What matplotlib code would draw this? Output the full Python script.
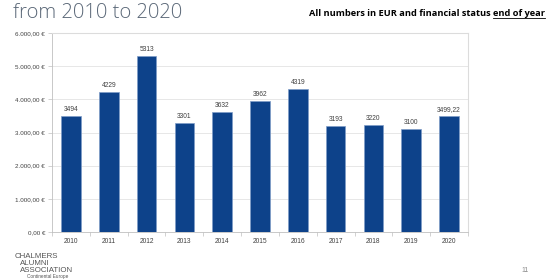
import matplotlib
matplotlib.use("Agg")
import matplotlib.pyplot as plt
from matplotlib.lines import Line2D

years = ["2010", "2011", "2012", "2013", "2014", "2015", "2016", "2017", "2018", "2019", "2020"]
values = [3494, 4229, 5313, 3301, 3632, 3962, 4319, 3193, 3220, 3100, 3499.22]
labels = ["3494", "4229", "5313", "3301", "3632", "3962", "4319", "3193", "3220", "3100", "3499,22"]
yticks = [0, 1000, 2000, 3000, 4000, 5000, 6000]

W, H = 550, 279
fig = plt.figure(figsize=(W / 100, H / 100), dpi=100)
fig.patch.set_facecolor("white")

ax = fig.add_axes([52 / W, 1 - 232 / H, (468 - 52) / W, (232 - 33) / H])
x = list(range(len(years)))
ax.bar(x, values, width=0.52, color="#0d428a", edgecolor="#7f9cc8", linewidth=0.5, zorder=3)
for xi, v, lab in zip(x, values, labels):
    ax.text(xi, v + 90, lab, ha="center", va="bottom", fontsize=4.8, color="#404040",
            family="Liberation Sans")

ax.set_xlim(-0.5, len(years) - 0.5)
ax.set_ylim(0, 6000)
ax.set_yticks(yticks)
ax.set_yticklabels([f"{v:,.2f}".replace(",", "X").replace(".", ",").replace("X", ".") + " €" for v in yticks],
                   fontsize=4.5, color="#404040", family="Liberation Sans")
ax.set_xticks(x)
ax.set_xticklabels(years, fontsize=4.8, color="#404040", family="Liberation Sans")
ax.tick_params(axis="x", length=0, pad=4)
ax.tick_params(axis="y", length=3, width=0.5, color="#bfbfbf", pad=2)
ax.set_xticks([i - 0.5 for i in range(len(years) + 1)], minor=True)
ax.tick_params(axis="x", which="minor", length=3, width=0.5, color="#bfbfbf")
ax.grid(axis="y", color="#e3e3e3", linewidth=0.6, zorder=0)
for s in ["top", "right"]:
    ax.spines[s].set_color("#dcdcdc")
    ax.spines[s].set_linewidth(0.8)
for s in ["left", "bottom"]:
    ax.spines[s].set_color("#bfbfbf")
    ax.spines[s].set_linewidth(0.6)

# Title
fig.text(13 / W, 1 - 18 / H, "from 2010 to 2020", fontsize=14.5, color="#5b6878",
         family="Open Sans", va="baseline", ha="left", fontweight="light")

# Subtitle with underlined part
fig.canvas.draw()
r = fig.canvas.get_renderer()
sy = 1 - 16 / H
t2 = fig.text(545 / W, sy, "end of year", fontsize=6.7, fontweight="bold",
              family="Open Sans", ha="right", va="baseline", color="black")
bb = t2.get_window_extent(renderer=r)
t1 = fig.text(bb.x0 / W - 2 / W, sy, "All numbers in EUR and financial status", fontsize=6.7,
              fontweight="bold", family="Open Sans", ha="right", va="baseline", color="black")
uy = sy - 1.5 / H
fig.add_artist(Line2D([bb.x0 / W, bb.x1 / W], [uy, uy],
                      transform=fig.transFigure, color="black", linewidth=0.6))

# Logo
lc = "#555555"
fig.text(15 / W, 1 - 258 / H, "CHALMERS", fontsize=5.7, color=lc, family="Liberation Sans", va="baseline")
fig.text(20 / W, 1 - 265 / H, "ALUMNI", fontsize=5.7, color=lc, family="Liberation Sans", va="baseline")
fig.text(20 / W, 1 - 272 / H, "ASSOCIATION", fontsize=5.7, color=lc, family="Liberation Sans", va="baseline")
fig.text(27 / W, 1 - 278 / H, "Continental Europe", fontsize=3.4, color=lc, family="Liberation Sans", va="baseline")

# page number
fig.text(525 / W, 1 - 270 / H, "11", fontsize=5, color="#8a8a8a", family="Liberation Sans", va="center", ha="center")

fig.savefig("out.png", dpi=100)
